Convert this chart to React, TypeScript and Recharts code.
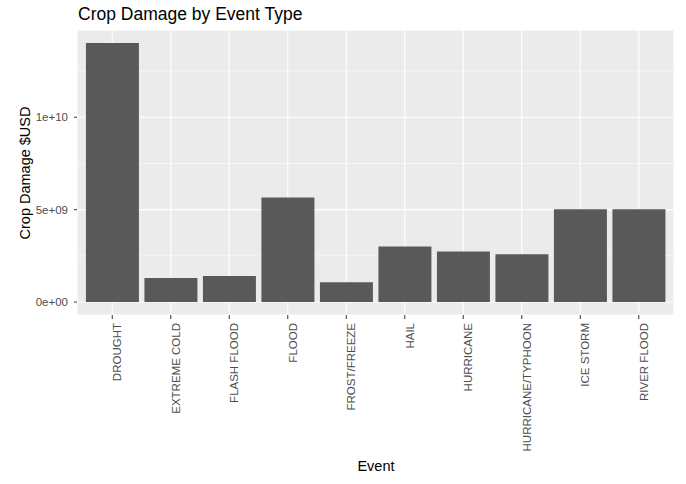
import { BarChart, Bar, XAxis, YAxis, CartesianGrid, ReferenceLine } from "recharts";

const events = [
  "DROUGHT",
  "EXTREME COLD",
  "FLASH FLOOD",
  "FLOOD",
  "FROST/FREEZE",
  "HAIL",
  "HURRICANE",
  "HURRICANE/TYPHOON",
  "ICE STORM",
  "RIVER FLOOD",
];
const cropDamage = [14.02e9, 1.3e9, 1.41e9, 5.66e9, 1.07e9, 3.01e9, 2.74e9, 2.58e9, 5.02e9, 5.02e9];
const yTicks = [0, 5e9, 1e10];
const yMinorTicks = [2.5e9, 7.5e9, 1.25e10];

const data = events.map((name, i) => ({ name, damage: cropDamage[i] }));

const FONT = '"Liberation Sans", Arial, Helvetica, sans-serif';

// ggplot-ish scientific labels: 5e+09
function sci(v: number) {
  if (v === 0) return "0e+00";
  const [m, e] = v.toExponential().split("e");
  const sign = e.startsWith("-") ? "-" : "+";
  const digits = e.replace(/[+-]/, "").padStart(2, "0");
  return `${m}e${sign}${digits}`;
}

const maxV = Math.max(...cropDamage);
const yDomain = [-0.05 * maxV, 1.05 * maxV];

function EventTick(props: any) {
  const { x, y, payload } = props;
  return (
    <g transform={`translate(${x},${y})`}>
      <text
        transform="rotate(-90)"
        x={-4}
        y={9}
        textAnchor="end"
        fontSize={11.5}
        fontFamily={FONT}
        fill="#4D4D4D"
      >
        {payload.value}
      </text>
    </g>
  );
}

export default function App() {
  return (
    <div style={{ position: "absolute", left: 0, top: 0, width: 686, height: 484, background: "#fff" }}>
      <BarChart
        width={686}
        height={484}
        data={data}
        margin={{ top: 30, right: 12, left: 0, bottom: 0 }}
        barCategoryGap="5%"
      >
        <CartesianGrid fill="#EBEBEB" stroke="#FFFFFF" strokeWidth={1.1} />
        {yMinorTicks.map((v) => (
          <ReferenceLine key={v} y={v} stroke="#FFFFFF" strokeWidth={0.55} zIndex={-50} />
        ))}
        <XAxis
          dataKey="name"
          height={169}
          interval={0}
          padding={{ left: 6, right: 6 }}
          axisLine={false}
          tickSize={4}
          tickMargin={0}
          tickLine={{ stroke: "#333333", strokeWidth: 1 }}
          tick={<EventTick />}
        />
        <YAxis
          width={77}
          domain={yDomain}
          allowDataOverflow
          ticks={yTicks}
          tickFormatter={sci}
          axisLine={false}
          tickSize={3}
          tickMargin={6}
          tickLine={{ stroke: "#333333", strokeWidth: 1 }}
          tick={{ fontSize: 11.5, fontFamily: FONT, fill: "#4D4D4D" }}
        />
        <Bar dataKey="damage" fill="#595959" isAnimationActive={false} />
      </BarChart>
      <svg
        width={686}
        height={484}
        style={{ position: "absolute", left: 0, top: 0, pointerEvents: "none" }}
      >
        <text x={78} y={19.5} fontSize={17.5} fontFamily={FONT} fill="#000">
          Crop Damage by Event Type
        </text>
        <text
          x={29.5}
          y={173}
          transform="rotate(-90, 29.5, 173)"
          textAnchor="middle"
          fontSize={14.5}
          fontFamily={FONT}
          fill="#000"
        >
          Crop Damage $USD
        </text>
        <text x={376} y={471} textAnchor="middle" fontSize={14.5} fontFamily={FONT} fill="#000">
          Event
        </text>
      </svg>
    </div>
  );
}
